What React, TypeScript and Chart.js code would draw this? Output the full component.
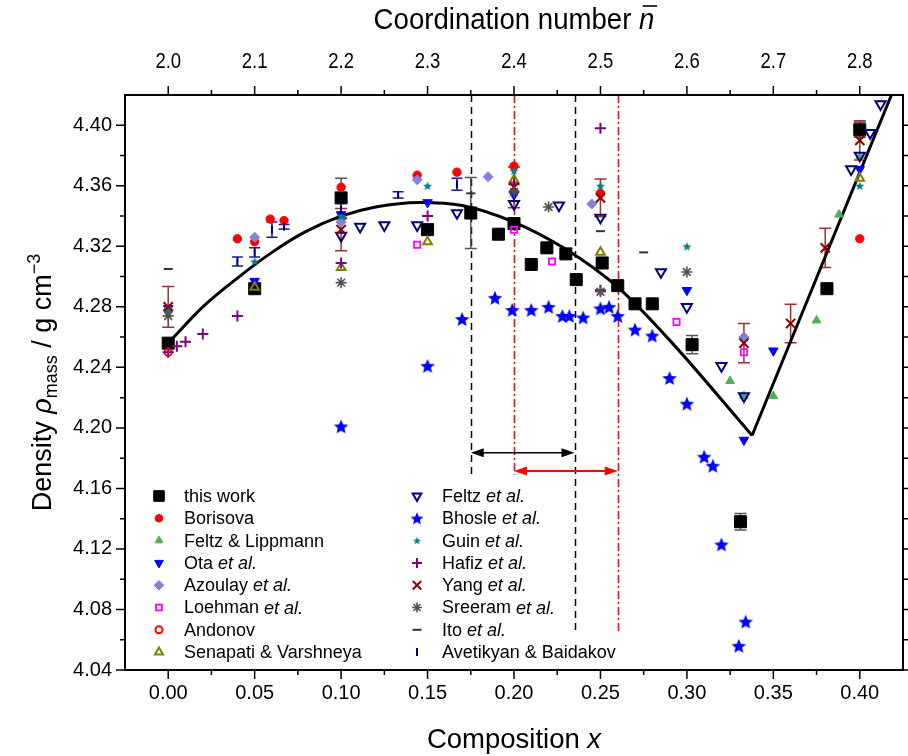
import { useEffect, useRef } from 'react';
import { Chart, registerables } from 'chart.js';
import { drawPoint } from 'chart.js/helpers';

Chart.register(...registerables);

const FONT = '"Liberation Sans", Arial, Helvetica, sans-serif';

// ---------- axes ----------
const xRange = [-0.025, 0.425];
const yRange = [4.04, 4.42];
const nRange = [1.95, 2.85];
const xMajorTicks = [0, 0.05, 0.1, 0.15, 0.2, 0.25, 0.3, 0.35, 0.4];
const xMinorTicks = [0.025, 0.075, 0.125, 0.175, 0.225, 0.275, 0.325, 0.375];
const nMajorTicks = [2.0, 2.1, 2.2, 2.3, 2.4, 2.5, 2.6, 2.7, 2.8];
const nMinorTicks = [2.05, 2.15, 2.25, 2.35, 2.45, 2.55, 2.65, 2.75];
const yMajorTicks = [4.04, 4.08, 4.12, 4.16, 4.2, 4.24, 4.28, 4.32, 4.36, 4.4];
const yMinorTicks = [4.06, 4.1, 4.14, 4.18, 4.22, 4.26, 4.3, 4.34, 4.38];

// ---------- data ----------
const thisWorkX = [0, 0.05, 0.1, 0.15, 0.175, 0.191, 0.2, 0.21, 0.219, 0.23, 0.236, 0.251, 0.26, 0.27, 0.28, 0.303, 0.331, 0.381, 0.4];
const thisWorkY = [4.256, 4.292, 4.352, 4.331, 4.342, 4.328, 4.335, 4.308, 4.319, 4.315, 4.298, 4.309, 4.294, 4.282, 4.282, 4.255, 4.138, 4.292, 4.397];
const thisWorkErr = [0, 0, 0.013, 0, 0.0235, 0, 0, 0, 0, 0, 0, 0, 0, 0, 0, 0.006, 0.0055, 0, 0.005];

const borisovaX = [0.04, 0.05, 0.059, 0.067, 0.1, 0.144, 0.167, 0.2, 0.25, 0.4];
const borisovaY = [4.325, 4.323, 4.338, 4.337, 4.359, 4.367, 4.369, 4.373, 4.355, 4.325];

const feltzLippmannX = [0.325, 0.333, 0.35, 0.375, 0.388, 0.4];
const feltzLippmannY = [4.231, 4.221, 4.221, 4.271, 4.341, 4.379];

const otaX = [0, 0.05, 0.1, 0.15, 0.2, 0.3, 0.333, 0.35, 0.4];
const otaY = [4.279, 4.297, 4.341, 4.349, 4.354, 4.291, 4.192, 4.251, 4.371];

const azoulayX = [0, 0.05, 0.1, 0.144, 0.185, 0.245, 0.333];
const azoulayY = [4.278, 4.326, 4.336, 4.364, 4.366, 4.348, 4.26];

const loehmanX = [0.144, 0.2, 0.222, 0.294, 0.333];
const loehmanY = [4.321, 4.331, 4.31, 4.27, 4.25];

const andonovX = [0];
const andonovY = [4.25];

const senapatiX = [0.05, 0.1, 0.15, 0.2, 0.25, 0.4];
const senapatiY = [4.293, 4.306, 4.323, 4.364, 4.316, 4.365];

const feltzX = [0.1, 0.111, 0.125, 0.144, 0.167, 0.2, 0.226, 0.25, 0.285, 0.3, 0.32, 0.333, 0.395, 0.4, 0.406, 0.412];
const feltzY = [4.327, 4.333, 4.334, 4.334, 4.342, 4.348, 4.347, 4.339, 4.303, 4.28, 4.241, 4.221, 4.371, 4.38, 4.395, 4.414];

const bhosleX = [0.1, 0.15, 0.17, 0.189, 0.199, 0.21, 0.22, 0.228, 0.232, 0.24, 0.25, 0.255, 0.26, 0.27, 0.28, 0.29, 0.3, 0.31, 0.315, 0.32, 0.334, 0.33];
const bhosleY = [4.201, 4.241, 4.272, 4.286, 4.278, 4.278, 4.28, 4.274, 4.274, 4.273, 4.279, 4.28, 4.274, 4.265, 4.261, 4.233, 4.216, 4.181, 4.175, 4.123, 4.072, 4.056];

const guinX = [0, 0.05, 0.1, 0.15, 0.2, 0.25, 0.3, 0.4];
const guinY = [4.277, 4.31, 4.34, 4.36, 4.37, 4.36, 4.32, 4.36];

const hafizX = [0, 0.005, 0.01, 0.02, 0.04, 0.1, 0.15, 0.2, 0.25, 0.25];
const hafizY = [4.25, 4.254, 4.257, 4.262, 4.274, 4.309, 4.34, 4.361, 4.398, 4.291];

const yangX = [0, 0.1, 0.2, 0.25, 0.333, 0.36, 0.38, 0.4];
const yangY = [4.28, 4.331, 4.359, 4.352, 4.256, 4.269, 4.319, 4.39];
const yangErr = [0.0135, 0.014, 0.0135, 0.0125, 0.013, 0.0127, 0.013, 0.013];

const sreeramX = [0, 0.1, 0.2, 0.22, 0.25, 0.3];
const sreeramY = [4.274, 4.296, 4.356, 4.346, 4.29, 4.303];

const itoX = [0, 0.175, 0.25, 0.275];
const itoY = [4.305, 4.355, 4.33, 4.316];

const avetikyanX = [0.04, 0.05, 0.06, 0.067, 0.1, 0.133, 0.167];
const avetikyanY = [4.31, 4.316, 4.331, 4.333, 4.344, 4.354, 4.361];
const avetikyanErr = [0.003, 0.003, 0.005, 0.0015, 0.006, 0.002, 0.004];

// fitted curve
const fitX = [0, 0.02, 0.04, 0.06, 0.08, 0.1, 0.12, 0.145, 0.17, 0.2, 0.23, 0.26, 0.29, 0.3377];
const fitY = [4.256, 4.280, 4.299, 4.316, 4.330, 4.340, 4.346, 4.349, 4.347, 4.336, 4.318, 4.293, 4.258, 4.195];
const fitLineX = [0.3377, 0.4183];
const fitLineY = [4.195, 4.42];

// marked composition ranges
const blackRange = [0.175, 0.235];
const redRange = [0.2, 0.26];
const blackArrowY = 4.1835;
const redArrowY = 4.1715;
const leftLineEnd = 4.169;
const rightLineEnd = 4.065;

// ---------- styles ----------
function makeStar(size: number, color: string) {
  const c = document.createElement('canvas');
  c.width = size;
  c.height = size;
  const g = c.getContext('2d')!;
  const cx = size / 2, cy = size / 2 + size * 0.05;
  const R = size / 2 - 0.3, r = R * 0.45;
  g.beginPath();
  for (let i = 0; i < 10; i++) {
    const a = -Math.PI / 2 + (i * Math.PI) / 5;
    const rr = i % 2 ? r : R;
    g.lineTo(cx + rr * Math.cos(a), cy + rr * Math.sin(a));
  }
  g.closePath();
  g.fillStyle = color;
  g.fill();
  return c;
}

const pts = (xs: number[], ys: number[]) => xs.map((x, i) => ({ x, y: ys[i] }));

type Seg = [string, boolean];
interface SeriesDef {
  label: Seg[];
  xs: number[];
  ys: number[];
  errs?: number[];
  errColor?: string;
  capW?: number;
  style: any;
  legendStyle?: any;
  radius: number;
  legendRadius?: number;
  rotation?: number;
  fill: string;
  stroke: string;
  bw: number;
}

export default function App() {
  const ref = useRef<HTMLCanvasElement>(null);

  useEffect(() => {
    const canvas = ref.current!;
    const bigStar = makeStar(16, '#0000ff');
    const legStar = makeStar(14, '#0000ff');
    const guinStar = makeStar(10, '#008080');
    const guinLeg = makeStar(9, '#008080');

    const series: SeriesDef[] = [
      { label: [['this work', false]], xs: thisWorkX, ys: thisWorkY, errs: thisWorkErr, errColor: '#555555', capW: 12, style: 'rect', radius: 8.5, legendRadius: 7.5, fill: '#000000', stroke: '#000000', bw: 1 },
      { label: [['Borisova', false]], xs: borisovaX, ys: borisovaY, style: 'circle', radius: 4.2, legendRadius: 3.8, fill: '#ff0000', stroke: '#ff0000', bw: 1 },
      { label: [['Feltz & Lippmann', false]], xs: feltzLippmannX, ys: feltzLippmannY, style: 'triangle', radius: 5, legendRadius: 4.5, fill: '#4fae52', stroke: '#4fae52', bw: 1 },
      { label: [['Ota ', false], ['et al.', true]], xs: otaX, ys: otaY, style: 'triangle', rotation: 180, radius: 5.5, legendRadius: 5, fill: '#0000ff', stroke: '#0000ff', bw: 1 },
      { label: [['Azoulay ', false], ['et al.', true]], xs: azoulayX, ys: azoulayY, style: 'rectRot', radius: 5, legendRadius: 4.8, fill: '#8282d8', stroke: '#8282d8', bw: 1 },
      { label: [['Loehman ', false], ['et al.', true]], xs: loehmanX, ys: loehmanY, style: 'rect', radius: 4.4, legendRadius: 4.2, fill: 'rgba(0,0,0,0)', stroke: '#ff00ff', bw: 1.8 },
      { label: [['Andonov', false]], xs: andonovX, ys: andonovY, style: 'circle', radius: 3.6, legendRadius: 3.5, fill: 'rgba(0,0,0,0)', stroke: '#ff0000', bw: 2 },
      { label: [['Senapati & Varshneya', false]], xs: senapatiX, ys: senapatiY, style: 'triangle', radius: 5, legendRadius: 4.6, fill: 'rgba(0,0,0,0)', stroke: '#808000', bw: 2 },
      { label: [['Feltz ', false], ['et al.', true]], xs: feltzX, ys: feltzY, style: 'triangle', rotation: 180, radius: 5.8, legendRadius: 5, fill: 'rgba(0,0,0,0)', stroke: '#000080', bw: 2 },
      { label: [['Bhosle ', false], ['et al.', true]], xs: bhosleX, ys: bhosleY, style: bigStar, legendStyle: legStar, radius: 7, fill: '#0000ff', stroke: '#0000ff', bw: 1 },
      { label: [['Guin ', false], ['et al.', true]], xs: guinX, ys: guinY, style: guinStar, legendStyle: guinLeg, radius: 5, fill: '#008080', stroke: '#008080', bw: 1 },
      { label: [['Hafiz ', false], ['et al.', true]], xs: hafizX, ys: hafizY, style: 'cross', radius: 5.5, legendRadius: 5, fill: '#800080', stroke: '#800080', bw: 2 },
      { label: [['Yang ', false], ['et al.', true]], xs: yangX, ys: yangY, errs: yangErr, errColor: '#a03030', capW: 12, style: 'crossRot', radius: 6.5, legendRadius: 6, fill: '#800000', stroke: '#8b0000', bw: 2 },
      { label: [['Sreeram ', false], ['et al.', true]], xs: sreeramX, ys: sreeramY, style: 'star', radius: 5.5, legendRadius: 5, fill: '#505050', stroke: '#505050', bw: 1.6 },
      { label: [['Ito ', false], ['et al.', true]], xs: itoX, ys: itoY, style: 'line', radius: 4.5, legendRadius: 4.5, fill: '#333333', stroke: '#333333', bw: 2 },
      { label: [['Avetikyan & Baidakov', false]], xs: avetikyanX, ys: avetikyanY, errs: avetikyanErr, errColor: '#1a1a9a', capW: 11, style: 'line', rotation: 90, radius: 4, legendRadius: 4, fill: '#000080', stroke: '#000080', bw: 2 },
    ];

    const N = series.length;
    const datasets: any[] = series.map((s, i) => ({
      type: 'scatter',
      label: s.label.map((t) => t[0]).join(''),
      data: pts(s.xs, s.ys),
      pointStyle: s.style,
      pointRadius: s.radius,
      pointRotation: s.rotation || 0,
      pointBackgroundColor: s.fill,
      pointBorderColor: s.stroke,
      pointBorderWidth: s.bw,
      pointHoverRadius: s.radius,
      showLine: false,
      order: N - i + 5,
      errors: s.errs,
      errColor: s.errColor,
      capW: s.capW,
      clip: false,
    }));

    datasets.push({
      type: 'line',
      label: 'fit',
      data: pts(fitX, fitY),
      borderColor: '#000000',
      borderWidth: 3,
      pointRadius: 0,
      cubicInterpolationMode: 'monotone',
      fill: false,
      order: 100,
    });
    datasets.push({
      type: 'line',
      label: 'fit2',
      data: pts(fitLineX, fitLineY),
      borderColor: '#000000',
      borderWidth: 3,
      pointRadius: 0,
      tension: 0,
      fill: false,
      order: 100,
    });

    const drawSegs = (ctx: CanvasRenderingContext2D, segs: Seg[], x: number, y: number, size: number) => {
      let cx = x;
      for (const [t, it] of segs) {
        ctx.font = `${it ? 'italic ' : ''}${size}px ${FONT}`;
        ctx.fillText(t, cx, y);
        cx += ctx.measureText(t).width;
      }
    };

    const arrow = (ctx: CanvasRenderingContext2D, x1: number, x2: number, y: number, color: string, lw: number) => {
      const hl = 13, hw = 4.5;
      ctx.strokeStyle = color;
      ctx.fillStyle = color;
      ctx.lineWidth = lw;
      ctx.setLineDash([]);
      ctx.beginPath();
      ctx.moveTo(x1 + hl - 2, y);
      ctx.lineTo(x2 - hl + 2, y);
      ctx.stroke();
      ctx.beginPath();
      ctx.moveTo(x1, y);
      ctx.lineTo(x1 + hl, y - hw);
      ctx.lineTo(x1 + hl, y + hw);
      ctx.closePath();
      ctx.fill();
      ctx.beginPath();
      ctx.moveTo(x2, y);
      ctx.lineTo(x2 - hl, y - hw);
      ctx.lineTo(x2 - hl, y + hw);
      ctx.closePath();
      ctx.fill();
    };

    const decor = {
      id: 'decor',
      beforeDatasetsDraw(chart: any) {
        const { ctx, scales } = chart;
        const xs = scales.x, ys = scales.y;
        const top = chart.chartArea.top;
        ctx.save();
        const vline = (xv: number, yEnd: number, color: string, dash: number[]) => {
          const px = Math.round(xs.getPixelForValue(xv)) + 0.5;
          ctx.strokeStyle = color;
          ctx.lineWidth = 1.5;
          ctx.setLineDash(dash);
          ctx.beginPath();
          ctx.moveTo(px, top);
          ctx.lineTo(px, ys.getPixelForValue(yEnd));
          ctx.stroke();
        };
        vline(blackRange[0], leftLineEnd, '#000000', [7, 5]);
        vline(blackRange[1], rightLineEnd, '#000000', [7, 5]);
        vline(redRange[0], leftLineEnd, '#ff0000', [8, 3, 2, 3]);
        vline(redRange[1], rightLineEnd, '#ff0000', [8, 3, 2, 3]);
        arrow(ctx, xs.getPixelForValue(blackRange[0]), xs.getPixelForValue(blackRange[1]), ys.getPixelForValue(blackArrowY), '#000000', 1.5);
        arrow(ctx, xs.getPixelForValue(redRange[0]), xs.getPixelForValue(redRange[1]), ys.getPixelForValue(redArrowY), '#ff0000', 2);
        ctx.setLineDash([]);
        chart.data.datasets.forEach((ds: any) => {
          if (!ds.errors) return;
          ctx.strokeStyle = ds.errColor;
          ctx.lineWidth = 1.5;
          ds.data.forEach((p: any, j: number) => {
            const e = ds.errors[j];
            if (!e) return;
            const px = xs.getPixelForValue(p.x);
            const y1 = ys.getPixelForValue(p.y + e);
            const y2 = ys.getPixelForValue(p.y - e);
            const hw = ds.capW / 2;
            ctx.beginPath();
            ctx.moveTo(px, y1);
            ctx.lineTo(px, y2);
            ctx.moveTo(px - hw, y1);
            ctx.lineTo(px + hw, y1);
            ctx.moveTo(px - hw, y2);
            ctx.lineTo(px + hw, y2);
            ctx.stroke();
          });
        });
        ctx.restore();
      },
      afterDraw(chart: any) {
        const { ctx, chartArea: a, scales } = chart;
        ctx.save();
        ctx.setLineDash([]);
        ctx.strokeStyle = '#000000';
        ctx.lineWidth = 2;
        ctx.strokeRect(a.left, a.top, a.right - a.left, a.bottom - a.top);
        ctx.lineWidth = 1.5;
        const maj = 9, min = 5;
        ctx.beginPath();
        for (const v of xMajorTicks) { const p = scales.x.getPixelForValue(v); ctx.moveTo(p, a.bottom); ctx.lineTo(p, a.bottom + maj); }
        for (const v of xMinorTicks) { const p = scales.x.getPixelForValue(v); ctx.moveTo(p, a.bottom); ctx.lineTo(p, a.bottom + min); }
        for (const v of nMajorTicks) { const p = scales.x2.getPixelForValue(v); ctx.moveTo(p, a.top); ctx.lineTo(p, a.top - maj); }
        for (const v of nMinorTicks) { const p = scales.x2.getPixelForValue(v); ctx.moveTo(p, a.top); ctx.lineTo(p, a.top - min); }
        for (const v of yMajorTicks) { const p = scales.y.getPixelForValue(v); ctx.moveTo(a.left, p); ctx.lineTo(a.left - maj, p); ctx.moveTo(a.right, p); ctx.lineTo(a.right + maj, p); }
        for (const v of yMinorTicks) { const p = scales.y.getPixelForValue(v); ctx.moveTo(a.left, p); ctx.lineTo(a.left - min, p); ctx.moveTo(a.right, p); ctx.lineTo(a.right + min, p); }
        ctx.stroke();

        // top axis labels (condensed face)
        ctx.fillStyle = '#000000';
        ctx.textAlign = 'center';
        ctx.textBaseline = 'middle';
        ctx.font = `22px ${FONT}`;
        for (const v of nMajorTicks) {
          const p = scales.x2.getPixelForValue(v);
          ctx.save();
          ctx.translate(p, 62);
          ctx.scale(0.84, 1);
          ctx.fillText(v.toFixed(1), 0, 0);
          ctx.restore();
        }

        // legend
        const rowY0 = 496, rowH = 22.3;
        const cols = [{ mx: 159, tx: 184 }, { mx: 417, tx: 442 }];
        ctx.textAlign = 'left';
        series.forEach((s, i) => {
          const col = cols[Math.floor(i / 8)];
          const yy = rowY0 + (i % 8) * rowH;
          ctx.fillStyle = s.fill;
          ctx.strokeStyle = s.stroke;
          ctx.lineWidth = s.bw;
          drawPoint(ctx, { pointStyle: s.legendStyle || s.style, radius: s.legendRadius || s.radius, rotation: s.rotation || 0, borderWidth: s.bw } as any, col.mx, yy);
          ctx.fillStyle = '#000000';
          ctx.textBaseline = 'middle';
          drawSegs(ctx, s.label, col.tx, yy + 1, 18);
        });

        // titles
        ctx.fillStyle = '#000000';
        ctx.textBaseline = 'middle';
        const cxMid = (a.left + a.right) / 2;
        const bs = 27.5;
        ctx.font = `${bs}px ${FONT}`;
        let w = ctx.measureText('Composition ').width;
        ctx.font = `italic ${bs}px ${FONT}`;
        w += ctx.measureText('x').width;
        drawSegs(ctx, [['Composition ', false], ['x', true]], cxMid - w / 2, 740, bs);
        const ts = 30, sx = 0.92;
        ctx.font = `${ts}px ${FONT}`;
        const t1 = 'Coordination number ';
        const w1 = ctx.measureText(t1).width;
        ctx.font = `italic ${ts}px ${FONT}`;
        const nw = ctx.measureText('n').width;
        const tw = (w1 + nw) * sx;
        ctx.save();
        ctx.translate(cxMid - tw / 2, 21);
        ctx.scale(sx, 1);
        drawSegs(ctx, [[t1, false], ['n', true]], 0, 0, ts);
        ctx.lineWidth = 1.6;
        ctx.strokeStyle = '#000000';
        ctx.beginPath();
        ctx.moveTo(w1 + 4, -15);
        ctx.lineTo(w1 + nw + 3, -15);
        ctx.stroke();
        ctx.restore();
        // y axis title
        ctx.save();
        ctx.translate(42, (a.top + a.bottom) / 2);
        ctx.rotate(-Math.PI / 2);
        ctx.textBaseline = 'alphabetic';
        const parts: { t: string; f: string; dy: number }[] = [
          { t: 'Density ', f: `27px ${FONT}`, dy: 0 },
          { t: 'ρ', f: `italic 27px ${FONT}`, dy: 0 },
          { t: 'mass', f: `18px ${FONT}`, dy: 6 },
          { t: ' / g cm', f: `27px ${FONT}`, dy: 0 },
          { t: '−3', f: `18px ${FONT}`, dy: -11 },
        ];
        let total = 0;
        for (const p of parts) { ctx.font = p.f; total += ctx.measureText(p.t).width; }
        let px = -total / 2;
        for (const p of parts) {
          ctx.font = p.f;
          ctx.fillText(p.t, px, 9 + p.dy);
          px += ctx.measureText(p.t).width;
        }
        ctx.restore();
        ctx.restore();
      },
    };

    const chart = new Chart(canvas, {
      type: 'scatter',
      data: { datasets },
      options: {
        animation: false,
        responsive: false,
        devicePixelRatio: 1,
        layout: { padding: { left: 0, top: 0, bottom: 0, right: 5 }, autoPadding: false },
        plugins: { legend: { display: false }, tooltip: { enabled: false } },
        scales: {
          x: {
            type: 'linear', position: 'bottom', min: xRange[0], max: xRange[1],
            grid: { display: false, drawTicks: false }, border: { display: false },
            afterBuildTicks: (s: any) => { s.ticks = xMajorTicks.map((value) => ({ value })); },
            afterFit: (s: any) => { s.height = 86; s.paddingLeft = 0; s.paddingRight = 0; },
            ticks: { autoSkip: false, maxRotation: 0, padding: 11, color: '#000', font: { family: FONT, size: 20 }, callback: (v: any) => Number(v).toFixed(2) },
          },
          x2: {
            type: 'linear', position: 'top', min: nRange[0], max: nRange[1],
            grid: { display: false, drawTicks: false }, border: { display: false },
            afterFit: (s: any) => { s.height = 95; s.paddingLeft = 0; s.paddingRight = 0; },
            ticks: { display: false },
          },
          y: {
            type: 'linear', position: 'left', min: yRange[0], max: yRange[1],
            grid: { display: false, drawTicks: false }, border: { display: false },
            afterBuildTicks: (s: any) => { s.ticks = yMajorTicks.map((value) => ({ value })); },
            afterFit: (s: any) => { s.width = 125; s.paddingTop = 0; s.paddingBottom = 0; },
            ticks: { autoSkip: false, padding: 13, color: '#000', font: { family: FONT, size: 20 }, callback: (v: any) => Number(v).toFixed(2) },
          },
        },
      } as any,
      plugins: [decor],
    });
    return () => chart.destroy();
  }, []);

  return (
    <canvas
      ref={ref}
      width={908}
      height={756}
      style={{ position: 'absolute', left: 0, top: 0, width: 908, height: 756 }}
    />
  );
}
